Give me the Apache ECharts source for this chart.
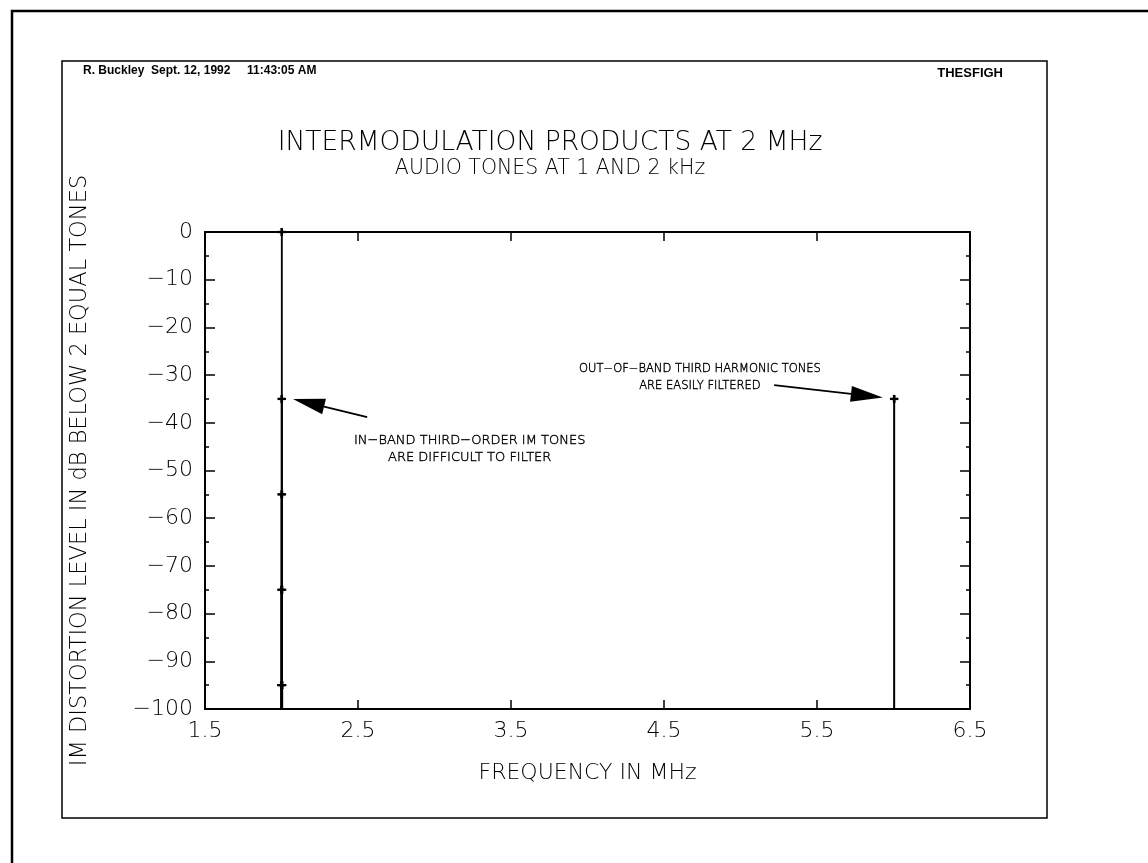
<!DOCTYPE html>
<html>
<head>
<meta charset="utf-8">
<title>Intermodulation products at 2 MHz</title>
<script src="https://cdn.jsdelivr.net/npm/echarts@6/dist/echarts.min.js"></script>
<style>
  html, body { margin: 0; padding: 0; background: #fff; }
  #chart { width: 1148px; height: 863px; }
</style>
</head>
<body>
<div id="chart"></div>
<script>
// tones in MHz and level in dB below the two equal tones
// (audio tones 1 and 2 kHz on a 2 MHz carrier, so they all sit on top of each other)
const inBandFreqs  = [2.001, 2.002, 2.000, 2.003, 1.999, 2.004, 1.998, 2.005, 1.997, 2.006];
const inBandLevels = [0, 0, -35, -35, -55, -55, -75, -75, -95, -95];
const outBandFreqs  = [6.003, 6.006];
const outBandLevels = [-35, -35];

// axes
const xTicks = [1.5, 2.5, 3.5, 4.5, 5.5, 6.5];
const yTicks = [0, -10, -20, -30, -40, -50, -60, -70, -80, -90, -100];

// notes, anchored in data units (centre of the two-line block)
const inBandNote = ['IN\u2212BAND THIRD\u2212ORDER IM TONES', 'ARE DIFFICULT TO FILTER'];
const inBandNoteAt = [3.23, -45.6];
const inBandArrow = [[2.56, -38.8], [2.075, -35]];
const outBandNote = ['OUT\u2212OF\u2212BAND THIRD HARMONIC TONES', 'ARE EASILY FILTERED'];
const outBandNoteAt = [4.735, -30.5];
const outBandArrow = [[5.22, -32.1], [5.93, -34.7]];

const FONT = "'DejaVu Sans ExtraLight', 'DejaVu Sans'";
const HEAD_FONT = "'Liberation Sans Narrow', 'Liberation Sans', Arial, sans-serif";
const INK = '#000';

var chartDom = document.getElementById('chart');
var myChart = echarts.init(chartDom, null, { renderer: 'canvas' });

const xMin = xTicks[0], xMax = xTicks[xTicks.length - 1];
const yMin = Math.min(...yTicks), yMax = Math.max(...yTicks);
const fmtMinus = (v) => String(v).replace('-', '\u2212');

function stem(params, api) {
    const x = api.value(0), y = api.value(1);
    const top = api.coord([x, y]);
    const base = api.coord([x, yMin]);
    return {
        type: 'group',
        children: [
            { type: 'line', shape: { x1: top[0], y1: top[1], x2: base[0], y2: base[1] }, style: { stroke: INK, lineWidth: 1.5 } },
            { type: 'line', shape: { x1: top[0] - 4, y1: top[1], x2: top[0] + 4, y2: top[1] }, style: { stroke: INK, lineWidth: 2.2 } },
            { type: 'line', shape: { x1: top[0], y1: top[1] - 4, x2: top[0], y2: top[1] + 4 }, style: { stroke: INK, lineWidth: 2.2 } }
        ]
    };
}

const axisLine = { show: true, onZero: false, lineStyle: { color: INK, width: 2 } };
const tickStyle = { color: INK, width: 1.5 };
const textBase = { fontFamily: FONT, fontWeight: 200, color: INK };

var option = {
    animation: false,
    backgroundColor: '#fff',
    grid: { left: 205, right: 178, top: 232, bottom: 154 },
    xAxis: [{
        type: 'value', min: xMin, max: xMax, interval: 1,
        name: 'FREQUENCY IN MHz', nameLocation: 'middle', nameGap: 53,
        nameTextStyle: Object.assign({ fontSize: 22 }, textBase),
        axisLine: axisLine,
        axisTick: { show: true, inside: true, length: 9, lineStyle: tickStyle },
        axisLabel: Object.assign({ fontSize: 22, margin: 11, formatter: (v) => v.toFixed(1) }, textBase),
        splitLine: { show: false }
    }, {
        type: 'value', position: 'top', min: xMin, max: xMax, interval: 1,
        axisLine: axisLine,
        axisTick: { show: true, inside: true, length: 9, lineStyle: tickStyle },
        axisLabel: { show: false },
        splitLine: { show: false }
    }],
    yAxis: [{
        type: 'value', min: yMin, max: yMax, interval: 10,
        name: 'IM DISTORTION LEVEL IN dB BELOW 2 EQUAL TONES', nameLocation: 'middle', nameGap: 113,
        nameTextStyle: Object.assign({ fontSize: 22.5 }, textBase),
        axisLine: axisLine,
        axisTick: { show: true, inside: true, length: 10, lineStyle: tickStyle },
        minorTick: { show: true, splitNumber: 2, length: 4, lineStyle: tickStyle },
        axisLabel: Object.assign({ fontSize: 22, margin: 12, formatter: fmtMinus }, textBase),
        splitLine: { show: false }
    }, {
        type: 'value', position: 'right', min: yMin, max: yMax, interval: 10,
        axisLine: axisLine,
        axisTick: { show: true, inside: true, length: 10, lineStyle: tickStyle },
        minorTick: { show: true, splitNumber: 2, length: 4, lineStyle: tickStyle },
        axisLabel: { show: false },
        splitLine: { show: false }
    }],
    series: [{
        name: 'in-band', type: 'custom', renderItem: stem,
        xAxisIndex: 0, yAxisIndex: 0,
        data: inBandFreqs.map((f, i) => [f, inBandLevels[i]])
    }, {
        name: 'out-of-band', type: 'custom', renderItem: stem,
        xAxisIndex: 0, yAxisIndex: 0,
        data: outBandFreqs.map((f, i) => [f, outBandLevels[i]])
    }]
};

myChart.setOption(option);

// arrows and notes go through the chart's own scales
const toPx = (p) => myChart.convertToPixel({ xAxisIndex: 0, yAxisIndex: 0 }, p);

function arrow(pts) {
    const a = toPx(pts[0]), b = toPx(pts[1]);
    const dx = b[0] - a[0], dy = b[1] - a[1];
    const len = Math.sqrt(dx * dx + dy * dy);
    const ux = dx / len, uy = dy / len;
    const headLen = 32, headW = 8;
    const bx = b[0] - ux * headLen, by = b[1] - uy * headLen;
    return [
        { type: 'line', shape: { x1: a[0], y1: a[1], x2: bx, y2: by }, style: { stroke: INK, lineWidth: 1.8 } },
        { type: 'polygon', shape: { points: [[b[0], b[1]], [bx - uy * headW, by + ux * headW], [bx + uy * headW, by - ux * headW]] }, style: { fill: INK } }
    ];
}

function note(lines, at, size) {
    const p = toPx(at);
    return {
        type: 'text', x: p[0], y: p[1],
        style: {
            text: lines.join('\n'), textAlign: 'center', textVerticalAlign: 'middle',
            fontFamily: FONT, fontWeight: 200, fontSize: size, lineHeight: 17,
            fill: INK, stroke: INK, lineWidth: 0.4
        }
    };
}

myChart.setOption({
    graphic: [
        // scanned page frame
        { type: 'rect', shape: { x: 12, y: 11, width: 1200, height: 900 }, style: { fill: null, stroke: INK, lineWidth: 2.5 }, silent: true },
        { type: 'rect', shape: { x: 62, y: 61, width: 985, height: 757 }, style: { fill: null, stroke: INK, lineWidth: 1.5 }, silent: true },
        { type: 'text', x: 83, y: 71, style: { text: 'R. Buckley  Sept. 12, 1992     11:43:05 AM', fontFamily: HEAD_FONT, fontWeight: 'bold', fontSize: 12, textVerticalAlign: 'middle', fill: INK } },
        { type: 'text', x: 1003, y: 73, style: { text: 'THESFIGH', fontFamily: HEAD_FONT, fontWeight: 'bold', fontSize: 13, textAlign: 'right', textVerticalAlign: 'middle', fill: INK } },
        { type: 'text', x: 550, y: 143, style: { text: 'INTERMODULATION PRODUCTS AT 2 MHz', fontFamily: FONT, fontWeight: 200, fontSize: 26.5, textAlign: 'center', textVerticalAlign: 'middle', fill: INK } },
        { type: 'text', x: 550, y: 169, style: { text: 'AUDIO TONES AT 1 AND 2 kHz', fontFamily: FONT, fontWeight: 200, fontSize: 20.5, textAlign: 'center', textVerticalAlign: 'middle', fill: INK } },
        note(inBandNote, inBandNoteAt, 13),
        note(outBandNote, outBandNoteAt, 11.5)
    ].concat(arrow(inBandArrow), arrow(outBandArrow))
});
</script>
</body>
</html>
